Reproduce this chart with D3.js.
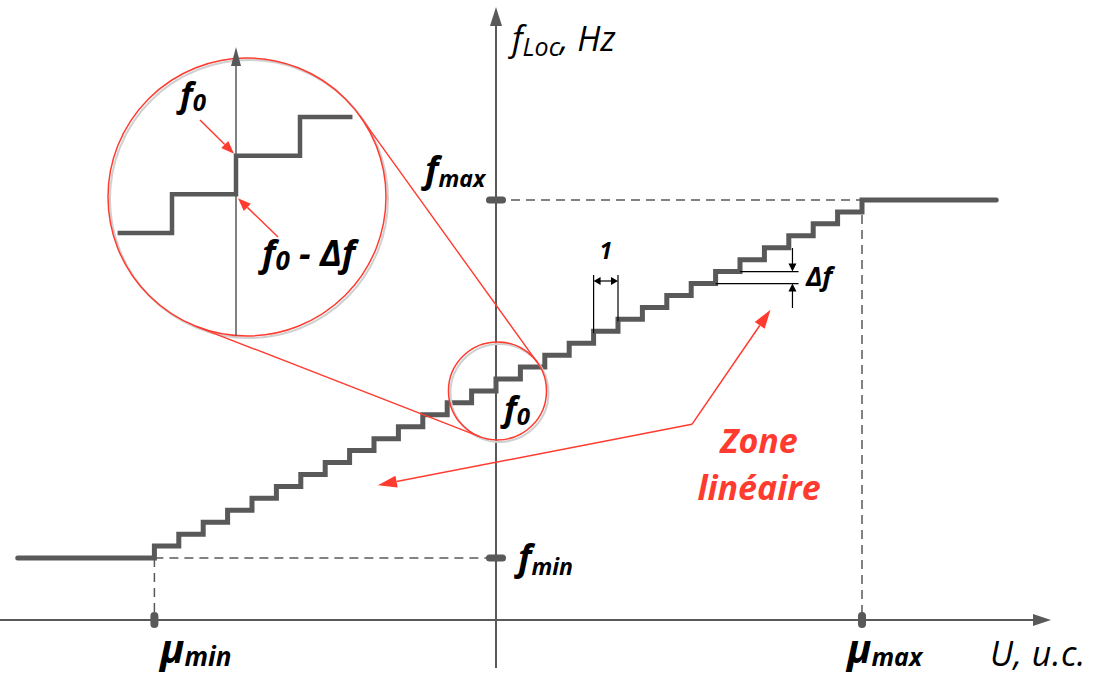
<!DOCTYPE html>
<html>
<head>
<meta charset="utf-8">
<script src="https://cdn.jsdelivr.net/npm/d3@7"></script>
<style>
  body { margin: 0; background: #fff; }
  svg { display: block; }
  text { font-family: "Open Sans", Lato, sans-serif; }
</style>
</head>
<body>
<svg id="chart" width="1097" height="680"></svg>
<script>
// staircase: riser positions (in steps of U) and the level (in Δf) reached after each riser
const riserU = [-14, -13, -12, -11, -10, -9, -8, -7, -6, -5, -4, -3, -2, -1, 0,
                1, 2, 3, 4, 5, 6, 7, 8, 9, 10, 11, 12, 13, 14, 15];
const riserLevel = [1, 2, 3, 4, 5, 6, 7, 8, 9, 10, 11, 12, 13, 14, 15,
                    16, 17, 18, 19, 20, 21, 22, 23, 24, 25, 26, 27, 28, 29, 30];
const plateauLeft = { u: -19.6, level: 0 };   // f = fmin below μmin
const plateauRight = { u: 20.5, level: 30 };  // f = fmax above μmax
const muMin = -14, muMax = 15;
const fMinLevel = 0, fMaxLevel = 30, f0Level = 15;

// zoomed detail around f0
const insetU = [-1.85, -1, 0, 1, 1.82];
const insetLevel = [13, 14, 15, 16, 16];

const svg = d3.select("#chart");
const grey = "#595959";
const red = "#ff3b2f";

const x = d3.scaleLinear().domain([muMin, muMax]).range([154.4, 862]);
const y = d3.scaleLinear().domain([fMinLevel, fMaxLevel]).range([558, 200]);
const x0 = x(0), yAxisY = 620;

// ---- axes ----
svg.append("line").attr("x1", 0).attr("x2", 1036).attr("y1", yAxisY).attr("y2", yAxisY)
    .attr("stroke", grey).attr("stroke-width", 2);
svg.append("path").attr("d", `M1051,${yAxisY} L1033,${yAxisY - 6} L1033,${yAxisY + 6} Z`).attr("fill", grey);
svg.append("line").attr("x1", x0).attr("x2", x0).attr("y1", 668).attr("y2", 22)
    .attr("stroke", grey).attr("stroke-width", 2);
svg.append("path").attr("d", `M${x0},7 L${x0 - 6},26 L${x0 + 6},26 Z`).attr("fill", grey);

// ---- dashed guides ----
const dash = svg.append("g").attr("stroke", grey).attr("stroke-width", 1.5)
    .attr("stroke-dasharray", "9,6").attr("fill", "none");
dash.append("line").attr("x1", x(muMin)).attr("x2", x0).attr("y1", y(fMinLevel)).attr("y2", y(fMinLevel));
dash.append("line").attr("x1", x(muMin)).attr("x2", x(muMin)).attr("y1", y(fMinLevel)).attr("y2", yAxisY);
dash.append("line").attr("x1", x0).attr("x2", x(muMax)).attr("y1", y(fMaxLevel)).attr("y2", y(fMaxLevel));
dash.append("line").attr("x1", x(muMax)).attr("x2", x(muMax)).attr("y1", y(fMaxLevel)).attr("y2", yAxisY);

// ---- tick pills ----
[fMinLevel, fMaxLevel].forEach(l => {
  svg.append("rect").attr("x", x0 - 10).attr("y", y(l) - 3.5).attr("width", 20).attr("height", 7)
      .attr("rx", 3.5).attr("fill", grey);
});
[muMin, muMax].forEach(u => {
  svg.append("rect").attr("x", x(u) - 4).attr("y", yAxisY - 8).attr("width", 8).attr("height", 16)
      .attr("rx", 4).attr("fill", grey);
});

// ---- staircase ----
const stairs = [plateauLeft].concat(riserU.map((u, i) => ({ u, level: riserLevel[i] })), [plateauRight]);
const stepLine = d3.line().x(d => x(d.u)).y(d => y(d.level)).curve(d3.curveStepAfter);
svg.append("path").datum(stairs).attr("d", stepLine)
    .attr("fill", "none").attr("stroke", grey).attr("stroke-width", 5)
    .attr("stroke-linecap", "round").attr("stroke-linejoin", "miter");

// ---- step width marker "1" ----
const wm = svg.append("g").attr("stroke", "#000").attr("stroke-width", 1.2);
wm.append("line").attr("x1", x(4)).attr("x2", x(4)).attr("y1", 275).attr("y2", y(19) + 2);
wm.append("line").attr("x1", x(5)).attr("x2", x(5)).attr("y1", 275).attr("y2", y(20) + 2);
wm.append("line").attr("x1", x(4) + 6).attr("x2", x(5) - 6).attr("y1", 281).attr("y2", 281);
svg.append("path").attr("fill", "#000")
    .attr("d", `M${x(4)},281 l7,-4 l0,8 Z M${x(5)},281 l-7,-4 l0,8 Z`);
svg.append("text").attr("x", x(4.5)).attr("y", 259).attr("text-anchor", "middle")
    .attr("font-size", 23).attr("font-weight", "bold").attr("font-style", "italic").text("1");

// ---- Δf marker ----
const dm = svg.append("g").attr("stroke", "#000").attr("stroke-width", 1.2);
const dfX = x(12.15);
dm.append("line").attr("x1", x(9)).attr("x2", x(12.4)).attr("y1", y(23)).attr("y2", y(23));
dm.append("line").attr("x1", x(10)).attr("x2", x(12.4)).attr("y1", y(24)).attr("y2", y(24));
dm.append("line").attr("x1", dfX).attr("x2", dfX).attr("y1", 248).attr("y2", y(24) - 6);
dm.append("line").attr("x1", dfX).attr("x2", dfX).attr("y1", y(23) + 6).attr("y2", 308);
svg.append("path").attr("fill", "#000")
    .attr("d", `M${dfX},${y(24)} l-4,-8 l8,0 Z M${dfX},${y(23)} l-4,8 l8,0 Z`);
svg.append("text").attr("x", 806).attr("y", 286)
    .attr("font-size", 27).attr("font-weight", "bold").attr("font-style", "italic").text("Δf");

// ---- magnifier circles and tangents ----
const big = { cx: 247, cy: 197, r: 139 };
const small = { cx: x(0.06), cy: y(14), r: 49 };
function tangents(c1, c2) {
  const dx = c2.cx - c1.cx, dy = c2.cy - c1.cy, d = Math.hypot(dx, dy);
  const vx = dx / d, vy = dy / d, c = (c1.r - c2.r) / d, h = Math.sqrt(1 - c * c);
  return [-1, 1].map(s => {
    const nx = c * vx - s * h * vy, ny = c * vy + s * h * vx;
    return [c1.cx + c1.r * nx, c1.cy + c1.r * ny, c2.cx + c2.r * nx, c2.cy + c2.r * ny];
  });
}
[big, small].forEach(c => {
  svg.append("circle").attr("cx", c.cx + 2).attr("cy", c.cy + 2).attr("r", c.r)
      .attr("fill", "none").attr("stroke", "#d0d0d0").attr("stroke-width", 2);
});
tangents(big, small).forEach(t => {
  svg.append("line").attr("x1", t[0]).attr("y1", t[1]).attr("x2", t[2]).attr("y2", t[3])
      .attr("stroke", red).attr("stroke-width", 1.4);
});
[big, small].forEach(c => {
  svg.append("circle").attr("cx", c.cx).attr("cy", c.cy).attr("r", c.r)
      .attr("fill", "none").attr("stroke", red).attr("stroke-width", 1.5);
});

// ---- inset detail ----
const xi = d3.scaleLinear().domain([-1, 1]).range([172, 300]);
const yi = d3.scaleLinear().domain([13, 16]).range([233, 117]);
svg.append("line").attr("x1", xi(0)).attr("x2", xi(0)).attr("y1", big.cy + big.r).attr("y2", 62)
    .attr("stroke", grey).attr("stroke-width", 1.5);
svg.append("path").attr("d", `M${xi(0)},47 L${xi(0) - 5},66 L${xi(0) + 5},66 Z`).attr("fill", grey);
svg.append("path").datum(insetU.map((u, i) => ({ u, level: insetLevel[i] })))
    .attr("d", d3.line().x(d => xi(d.u)).y(d => yi(d.level)).curve(d3.curveStepAfter))
    .attr("fill", "none").attr("stroke", grey).attr("stroke-width", 4.5)
    .attr("stroke-linecap", "butt").attr("stroke-linejoin", "miter");

function redArrow(g, x1, y1, x2, y2, len, half) {
  const a = Math.atan2(y2 - y1, x2 - x1);
  const bx = x2 - len * Math.cos(a), by = y2 - len * Math.sin(a);
  g.append("line").attr("x1", x1).attr("y1", y1).attr("x2", bx).attr("y2", by)
      .attr("stroke", red).attr("stroke-width", 1.5);
  g.append("path").attr("fill", red).attr("d",
      `M${x2},${y2} L${bx + half * Math.sin(a)},${by - half * Math.cos(a)} ` +
      `L${bx - half * Math.sin(a)},${by + half * Math.cos(a)} Z`);
}
redArrow(svg, 200, 120, xi(0) - 2, yi(15) - 2, 13, 5);
redArrow(svg, 278, 237, xi(0) + 2, yi(14) + 4, 13, 5);

// ---- "Zone linéaire" arrows ----
const corner = [x(8.03), y(11.2)];
redArrow(svg, corner[0], corner[1], x(-4.84), y(6.1), 19, 6);
redArrow(svg, corner[0], corner[1], x(11.25), y(20.8), 19, 6);

// ---- labels ----
function subLabel(px, py, main, sub, opts) {
  const t = svg.append("text").attr("x", px).attr("y", py)
      .attr("font-style", "italic").attr("font-weight", opts.bold ? "bold" : "normal")
      .attr("fill", opts.fill || "#000");
  t.append("tspan").attr("font-size", opts.size).text(main);
  t.append("tspan").attr("font-size", opts.subSize).attr("dy", opts.dy).text(sub);
  if (opts.tail) t.append("tspan").attr("font-size", opts.tailSize || opts.size).attr("dy", -opts.dy).text(opts.tail);
  return t;
}
subLabel(512, 51, "f", "Loc", { size: 34, subSize: 25, dy: 5, tail: ", Hz", tailSize: 34 });
subLabel(425, 182, "f", "max", { size: 36, subSize: 23, dy: 5, bold: true });
subLabel(518, 570, "f", "min", { size: 36, subSize: 23, dy: 5, bold: true });
subLabel(160, 663, "μ", "min", { size: 40, subSize: 26, dy: 3, bold: true });
subLabel(847, 663, "μ", "max", { size: 40, subSize: 25, dy: 3, bold: true });
subLabel(504, 421, "f", "0", { size: 34, subSize: 24, dy: 4, bold: true });
subLabel(180, 107, "f", "0", { size: 34, subSize: 24, dy: 4, bold: true });
subLabel(262, 266, "f", "0", { size: 36, subSize: 26, dy: 4, bold: true, tail: " - Δf" });
svg.append("text").attr("x", 990).attr("y", 666).attr("font-size", 34).attr("font-style", "italic")
    .attr("letter-spacing", 0.5).text("U, u.c.");
svg.append("text").attr("x", 759).attr("y", 453).attr("text-anchor", "middle")
    .attr("font-size", 34).attr("font-weight", "bold").attr("font-style", "italic")
    .attr("fill", red).text("Zone");
svg.append("text").attr("x", 759).attr("y", 500).attr("text-anchor", "middle")
    .attr("font-size", 34).attr("font-weight", "bold").attr("font-style", "italic")
    .attr("fill", red).text("linéaire");
</script>
</body>
</html>
